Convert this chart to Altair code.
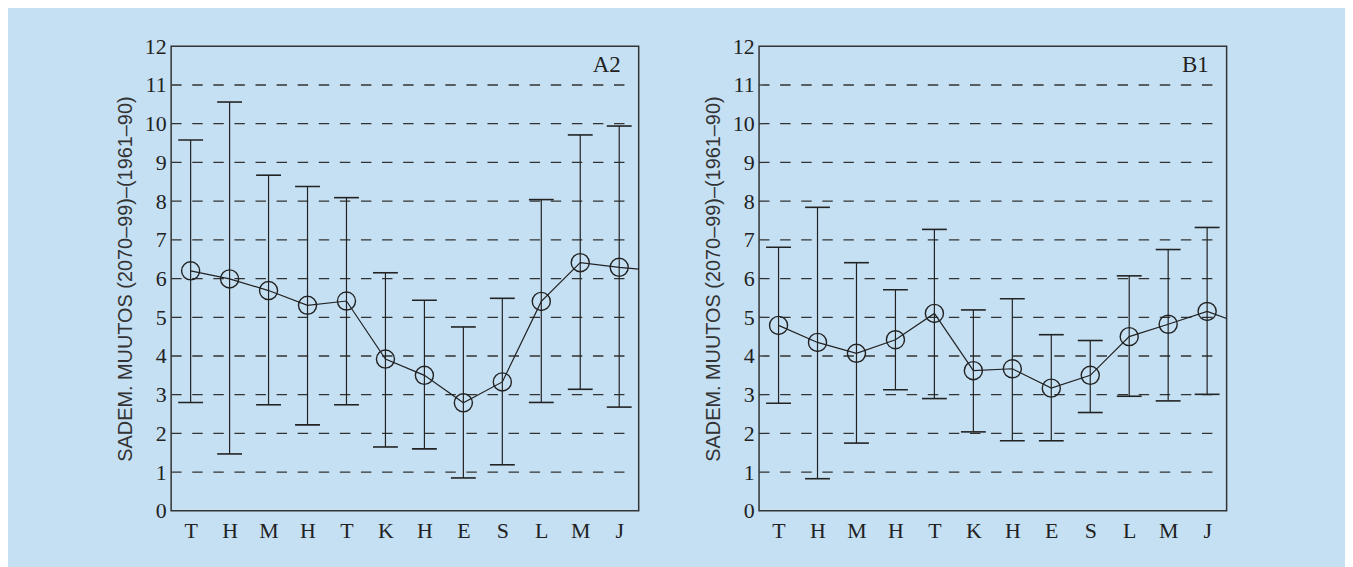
import json
import pandas as pd
import altair as alt

# ---- data ----
months = ["T", "H", "M", "H", "T", "K", "H", "E", "S", "L", "M", "J"]

a2_mean = [6.20, 5.99, 5.69, 5.31, 5.42, 3.92, 3.50, 2.79, 3.33, 5.41, 6.41, 6.29]
a2_low = [2.80, 1.47, 2.74, 2.22, 2.74, 1.65, 1.60, 0.85, 1.19, 2.80, 3.14, 2.68]
a2_high = [9.58, 10.56, 8.67, 8.38, 8.09, 6.15, 5.44, 4.75, 5.49, 8.04, 9.71, 9.94]

b1_mean = [4.79, 4.35, 4.07, 4.42, 5.10, 3.62, 3.67, 3.17, 3.50, 4.50, 4.82, 5.15]
b1_low = [2.78, 0.83, 1.75, 3.13, 2.90, 2.04, 1.81, 1.81, 2.54, 2.96, 2.84, 3.01]
b1_high = [6.81, 7.84, 6.41, 5.71, 7.27, 5.19, 5.48, 4.55, 4.40, 6.07, 6.75, 7.32]

panel_names = ["A2", "B1"]
grid_levels = list(range(1, 12))
y_ticks = list(range(0, 13))
y_title = "SADEM. MUUTOS (2070–99)–(1961–90)"

# ---- styling ----
W, H = 470, 467
BG = "#c5e0f3"
INK = "#222222"
SERIF = "Liberation Serif"
SANS = "Liberation Sans"
label_expr = json.dumps(months) + "[datum.value]"


def panel(name, mean, low, high):
    df = pd.DataFrame({"idx": list(range(12)), "month": months,
                       "mean": mean, "low": low, "high": high})
    # line wraps round to the next January and is clipped at the frame
    line_df = pd.DataFrame({"idx": list(range(13)), "mean": mean + mean[:1]})
    grid_df = pd.DataFrame({"level": grid_levels})
    name_df = pd.DataFrame({"name": [name]})

    xs = alt.Scale(domain=[-0.5, 11.5], nice=False, zero=False)
    ys = alt.Scale(domain=[0, 12], nice=False, zero=False)
    xaxis = alt.Axis(values=list(range(12)), labelExpr=label_expr, domain=False,
                     ticks=False, tickSize=0, grid=False, labelPadding=10,
                     labelFont=SERIF, labelFontSize=22, labelColor=INK)
    yaxis = alt.Axis(values=y_ticks, domain=False, ticks=False, tickSize=0,
                     grid=False, labelPadding=5, labelFont=SERIF,
                     labelFontSize=22, labelColor=INK, title=y_title,
                     titleFont=SANS, titleFontSize=20, titleFontWeight="normal",
                     titleColor="#333333", titlePadding=9)

    def X(f):
        return alt.X(f, scale=xs, axis=xaxis, title=None)

    def Y(f):
        return alt.Y(f, scale=ys, axis=yaxis)

    grid = alt.Chart(grid_df).mark_rule(
        strokeDash=[10.5, 10.7], color="#333333", strokeWidth=1.3
    ).encode(y=Y("level:Q"), x=alt.value(0), x2=alt.value(W - 10))

    bars = alt.Chart(df).mark_rule(color=INK, strokeWidth=1.2).encode(
        x=X("idx:Q"), y=Y("low:Q"), y2="high:Q")

    cap_lo = alt.Chart(df).mark_tick(
        orient="horizontal", size=25, thickness=1.6, color=INK, opacity=1
    ).encode(x=X("idx:Q"), y=Y("low:Q"))
    cap_hi = alt.Chart(df).mark_tick(
        orient="horizontal", size=25, thickness=1.6, color=INK, opacity=1
    ).encode(x=X("idx:Q"), y=Y("high:Q"))

    line = alt.Chart(line_df).mark_line(color=INK, strokeWidth=1.2, clip=True).encode(
        x=X("idx:Q"), y=Y("mean:Q"))

    pts = alt.Chart(df).mark_point(
        shape="circle", filled=False, size=330, color=INK, strokeWidth=1.4, opacity=1
    ).encode(x=X("idx:Q"), y=Y("mean:Q"))

    lab = alt.Chart(name_df).mark_text(
        font=SERIF, fontSize=23, color=INK, align="right", baseline="middle"
    ).encode(x=alt.value(W - 18), y=alt.value(19), text="name:N")

    return alt.layer(grid, bars, cap_lo, cap_hi, line, pts, lab).properties(
        width=W, height=H)


chart = alt.hconcat(
    panel(panel_names[0], a2_mean, a2_low, a2_high),
    panel(panel_names[1], b1_mean, b1_low, b1_high),
    spacing=63,
).properties(
    padding={"left": 107, "top": 25, "right": 118, "bottom": 30}
).configure(
    background=BG
).configure_view(
    stroke="#333333", strokeWidth=1.5
)

chart.save("out.html", embed_options={"renderer": "svg", "actions": False})
